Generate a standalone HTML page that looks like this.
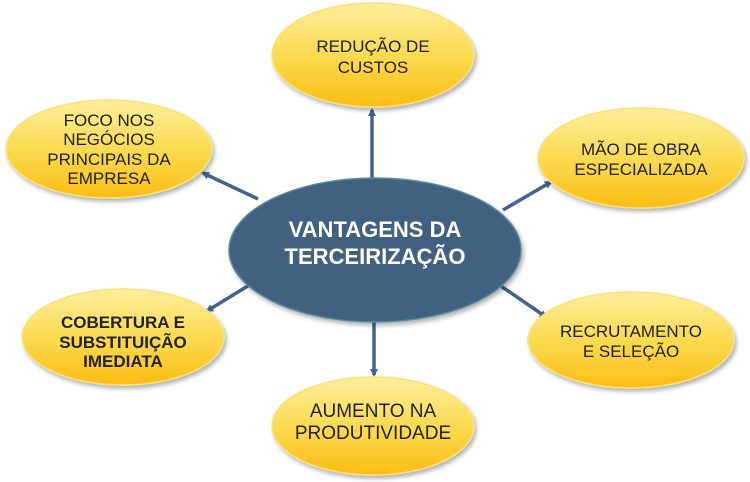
<!DOCTYPE html>
<html><head><meta charset="utf-8"><style>body{margin:0;background:#fff}svg{display:block}</style></head><body>
<svg width="750" height="482" viewBox="0 0 750 482" xmlns="http://www.w3.org/2000/svg">
<defs>
<linearGradient id="y" x1="0" y1="0" x2="0" y2="1">
<stop offset="0" stop-color="#fcee9c"/><stop offset="0.55" stop-color="#fbd84a"/><stop offset="1" stop-color="#fdbd14"/></linearGradient>
<marker id="a" markerWidth="8" markerHeight="8" refX="6" refY="4" orient="auto" markerUnits="userSpaceOnUse"><path d="M0,0 L8,4 L0,8 z" fill="#44628a"/></marker>
<filter id="s" x="-10%" y="-10%" width="125%" height="130%"><feDropShadow dx="2" dy="3" stdDeviation="2" flood-color="#000" flood-opacity="0.3"/></filter>
</defs>
<g stroke="#44628a" stroke-width="3.5" marker-end="url(#a)">
<line x1="372" y1="178" x2="372" y2="110"/>
<line x1="258" y1="199" x2="203" y2="173"/>
<line x1="503" y1="210" x2="551" y2="182"/>
<line x1="256" y1="281" x2="207" y2="311"/>
<line x1="495" y1="282" x2="546" y2="317"/>
<line x1="374" y1="322" x2="374" y2="375"/>
</g>
<g fill="url(#y)" stroke="#f8e27a" stroke-width="1.5" filter="url(#s)">
<ellipse cx="373" cy="55" rx="101" ry="52"/>
<ellipse cx="109" cy="149" rx="103" ry="49"/>
<ellipse cx="641" cy="158" rx="103" ry="50"/>
<ellipse cx="123" cy="337" rx="101" ry="48"/>
<ellipse cx="631" cy="340" rx="103" ry="48"/>
<ellipse cx="373" cy="426" rx="101" ry="49"/>
</g>
<ellipse cx="375" cy="250" rx="146" ry="72" fill="#426080" stroke="#5a8a9a" stroke-width="1.5" filter="url(#s)"/>
<g font-family="Liberation Sans, sans-serif" text-anchor="middle" fill="#222" font-size="17">
<text x="373" y="52">REDUÇÃO DE</text><text x="373" y="73">CUSTOS</text>
<text x="109" y="126">FOCO NOS</text><text x="109" y="145">NEGÓCIOS</text><text x="109" y="165">PRINCIPAIS DA</text><text x="109" y="184">EMPRESA</text>
<text x="641" y="155">MÃO DE OBRA</text><text x="641" y="175">ESPECIALIZADA</text>
<g font-weight="bold"><text x="123" y="328">COBERTURA E</text><text x="123" y="348">SUBSTITUIÇÃO</text><text x="123" y="367">IMEDIATA</text></g>
<text x="631" y="337">RECRUTAMENTO</text><text x="631" y="357">E SELEÇÃO</text>
<g font-size="19"><text x="373" y="417">AUMENTO NA</text><text x="373" y="439">PRODUTIVIDADE</text></g>
<g fill="#fff" font-weight="bold" font-size="22"><text x="375" y="237">VANTAGENS DA</text><text x="375" y="264">TERCEIRIZAÇÃO</text></g>
</g>
</svg>
</body></html>
